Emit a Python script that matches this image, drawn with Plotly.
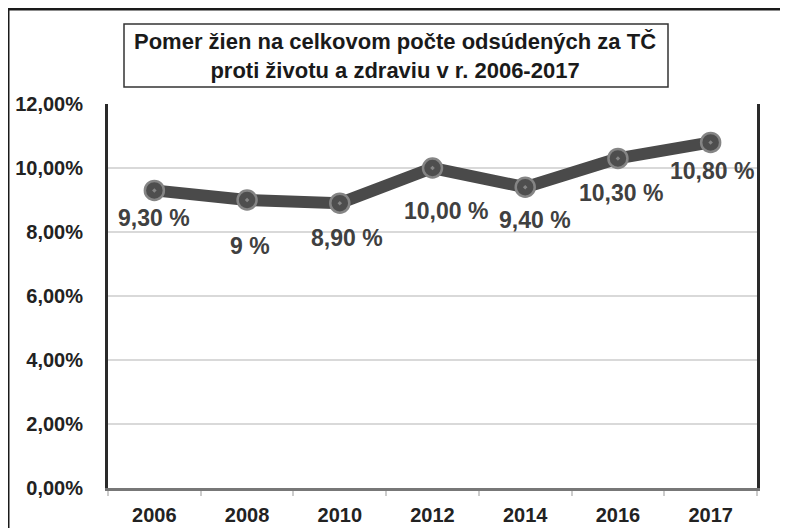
import plotly.graph_objects as go

years = ["2006", "2008", "2010", "2012", "2014", "2016", "2017"]
values = [9.3, 9.0, 8.9, 10.0, 9.4, 10.3, 10.8]
labels = ["9,30 %", "9 %", "8,90 %", "10,00 %", "9,40 %", "10,30 %", "10,80 %"]
title_text = "Pomer žien na celkovom počte odsúdených za TČ<br>proti životu a zdraviu v r. 2006-2017"

# label offsets (pixels) relative to each point
label_dx = [0, 3, 7, 13, 10, 3, 1]
label_dy = [-28, -46, -35, -43, -33, -35, -29]

# page has an 8px body margin; figure drawn in a 780x520 box
OFF = 8
W, H = 780, 520
L, R, T, B = 100, 31, 96, 40
pw, ph = W - L - R, H - T - B

def px(x):
    return (x - OFF - L) / pw

def py(y):
    return (H - B - (y - OFF)) / ph

FONT = "Liberation Sans, Arial, sans-serif"

fig = go.Figure()
fig.add_trace(go.Scatter(
    x=years, y=values, mode="lines+markers",
    line=dict(color="#4a4a4a", width=12),
    marker=dict(symbol="circle-dot", size=19, color="#4e4e4e",
                line=dict(color="#858585", width=2.5)),
    hoverinfo="skip", showlegend=False,
))

annotations = []
for i, (v, t, dx, dy) in enumerate(zip(values, labels, label_dx, label_dy)):
    annotations.append(dict(
        x=i, y=v, xref="x", yref="y", text=t, showarrow=False,
        xshift=dx, yshift=dy, xanchor="center", yanchor="middle",
        font=dict(family=FONT, size=23, color="#404040", weight="bold"),
    ))

annotations.append(dict(
    x=px(395), y=py(56), xref="paper", yref="paper", text=title_text,
    showarrow=False, xanchor="center", yanchor="middle", align="center",
    font=dict(family=FONT, size=22, color="#1a1a1a", weight="bold"),
))

shapes = [
    # outer frame
    dict(type="rect", xref="paper", yref="paper",
         x0=px(8), x1=px(830), y0=py(570), y1=py(9),
         line=dict(color="#1a1a1a", width=3), layer="above"),
    # title box
    dict(type="rect", xref="paper", yref="paper",
         x0=px(124), x1=px(668), y0=py(87), y1=py(24),
         line=dict(color="#333333", width=1.5), layer="above"),
]

fig.update_layout(
    width=W, height=H,
    margin=dict(l=L, r=R, t=T, b=B, pad=0, autoexpand=False),
    paper_bgcolor="white", plot_bgcolor="white",
    separators=", ",
    annotations=annotations, shapes=shapes,
    xaxis=dict(
        type="category", range=[-0.5, 6.5], tickson="boundaries",
        ticks="outside", ticklen=5, tickcolor="#cccccc", tickwidth=1.5,
        ticklabelstandoff=7, automargin=False,
        showgrid=False, showline=True, linecolor="#777777", linewidth=3,
        mirror=False, zeroline=False,
        tickfont=dict(family=FONT, size=20, color="#222222", weight="bold"),
        fixedrange=True,
    ),
    yaxis=dict(
        range=[0, 12], dtick=2, tickformat=".2f", ticksuffix="%",
        showgrid=True, gridcolor="#d9d9d9", gridwidth=1.5,
        showline=True, linecolor="#2a2a2a", linewidth=3, mirror=True,
        zeroline=False, ticks="", ticklabelstandoff=18, automargin=False,
        tickfont=dict(family=FONT, size=20, color="#222222", weight="bold"),
        fixedrange=True,
    ),
)

fig.write_html("out.html")
